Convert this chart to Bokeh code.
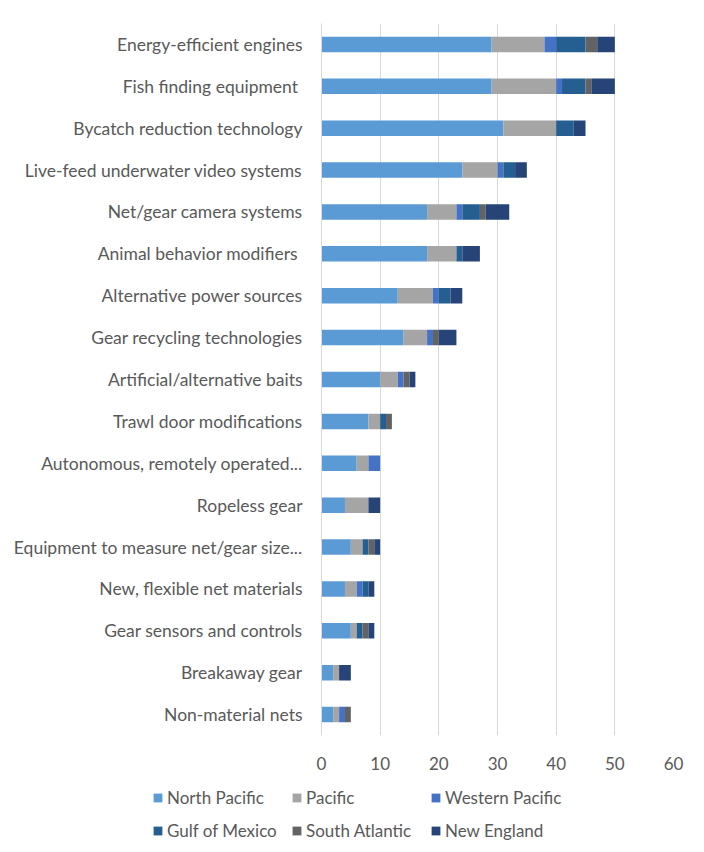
from bokeh.plotting import figure
from bokeh.layouts import column
from bokeh.models import ColumnDataSource, FactorRange, Legend, LegendItem
from bokeh.embed import file_html
from bokeh.resources import INLINE

categories = [
    "Energy-efficient engines",
    "Fish finding equipment ",
    "Bycatch reduction technology",
    "Live-feed underwater video systems",
    "Net/gear camera systems",
    "Animal behavior modifiers ",
    "Alternative power sources",
    "Gear recycling technologies",
    "Artificial/alternative baits",
    "Trawl door modifications",
    "Autonomous, remotely operated...",
    "Ropeless gear",
    "Equipment to measure net/gear size...",
    "New, flexible net materials",
    "Gear sensors and controls",
    "Breakaway gear",
    "Non-material nets",
]

series = ["North Pacific", "Pacific", "Western Pacific", "Gulf of Mexico", "South Atlantic", "New England"]

north_pacific   = [29, 29, 31, 24, 18, 18, 13, 14, 10, 8, 6, 4, 5, 4, 5, 2, 2]
pacific         = [9, 11, 9, 6, 5, 5, 6, 4, 3, 2, 2, 4, 2, 2, 1, 1, 1]
western_pacific = [2, 1, 0, 1, 1, 0, 1, 1, 1, 0, 2, 0, 0, 1, 0, 0, 1]
gulf_of_mexico  = [5, 4, 3, 2, 3, 1, 2, 0, 0, 1, 0, 0, 1, 1, 1, 0, 0]
south_atlantic  = [2, 1, 0, 0, 1, 0, 0, 1, 1, 1, 0, 0, 1, 0, 1, 0, 1]
new_england     = [3, 4, 2, 2, 4, 3, 2, 3, 1, 0, 0, 2, 1, 1, 1, 2, 0]

x_ticks = [0, 10, 20, 30, 40, 50, 60]

colors = ["#5B9BD5", "#A5A5A5", "#4472C4", "#255E91", "#636363", "#264478"]

data = {"cat": categories}
for name, vals in zip(series, [north_pacific, pacific, western_pacific,
                                gulf_of_mexico, south_atlantic, new_england]):
    data[name] = vals
source = ColumnDataSource(data)

FONT = "Lato"
TXT = "#595959"

p = figure(
    y_range=FactorRange(*list(reversed(categories))),
    x_range=(x_ticks[0], x_ticks[-1]),
    width=696, height=780,
    frame_width=352, frame_height=712,
    min_border_left=321, min_border_top=23, min_border_right=23, min_border_bottom=45,
    output_backend="svg", toolbar_location=None,
)

renderers = p.hbar_stack(series, y="cat", height=0.37, color=colors, source=source,
                         line_color=None)

p.outline_line_color = None
p.background_fill_color = "white"
p.border_fill_color = "white"

p.xgrid.grid_line_color = "#D9D9D9"
p.xgrid.grid_line_width = 1
p.ygrid.grid_line_color = None
p.xaxis.ticker = x_ticks
p.xaxis.axis_line_color = None
p.xaxis.major_tick_line_color = None
p.xaxis.minor_tick_line_color = None
p.xaxis.major_label_text_font = FONT
p.xaxis.major_label_text_font_size = "17px"
p.xaxis.major_label_text_color = TXT
p.xaxis.major_label_standoff = 15

p.yaxis.axis_line_color = "#D9D9D9"
p.yaxis.major_tick_line_color = None
p.yaxis.minor_tick_line_color = None
p.yaxis.major_label_text_font = FONT
p.yaxis.major_label_text_font_size = "17.5px"
p.yaxis.major_label_text_color = TXT
p.yaxis.major_label_standoff = 13

# Legend figure: same stacked series, kept out of its visible range so only keys show
lg = figure(width=696, height=70, x_range=(-2, -1),
            y_range=FactorRange(*categories),
            min_border=0, output_backend="svg", toolbar_location=None,
            x_axis_type=None, y_axis_type=None)
if "frame_align" in lg.properties():
    lg.frame_align = False
lg.outline_line_color = None
lg.grid.grid_line_color = None
lg.border_fill_color = "white"
lg.background_fill_color = "white"
key_renderers = lg.hbar_stack(series, y="cat", height=0.37, color=colors, source=source,
                              line_color=None)
items = [LegendItem(label=name, renderers=[r]) for name, r in zip(series, key_renderers)]
legend = Legend(items=items, ncols=3, orientation="horizontal", location=(152, 9),
                label_text_font=FONT, label_text_font_size="17px", label_text_color=TXT,
                glyph_width=11, glyph_height=11, label_height=20, spacing=12,
                label_standoff=4, label_width=112, padding=2, margin=0,
                border_line_color=None, background_fill_alpha=0)
lg.add_layout(legend, "center")

layout = column(p, lg, spacing=0)

with open("out.html", "w") as f:
    f.write(file_html(layout, INLINE))
